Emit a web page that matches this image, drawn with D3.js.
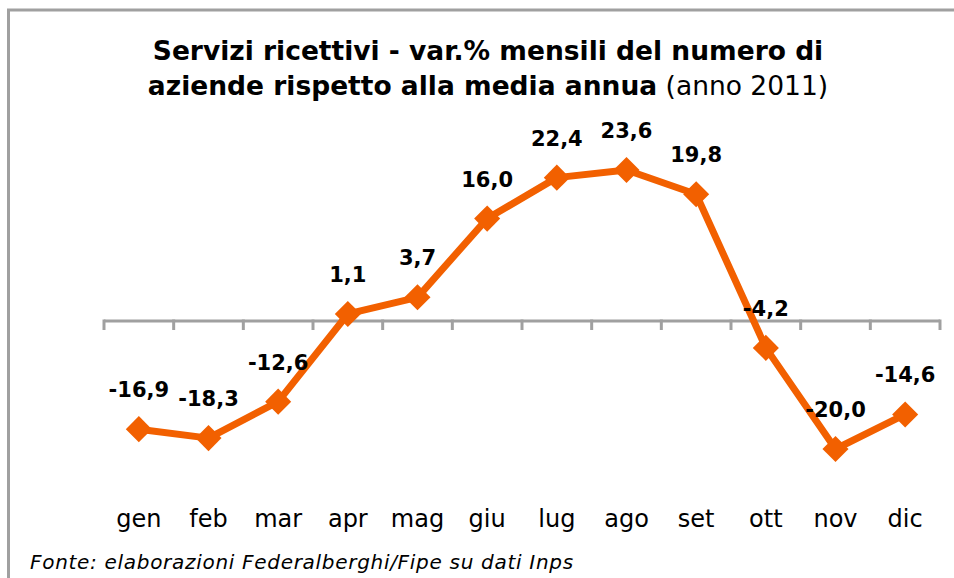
<!DOCTYPE html>
<html>
<head>
<meta charset="utf-8">
<script src="https://cdn.jsdelivr.net/npm/d3@7"></script>
<style>
  body { margin: 0; background: #fff; }
  svg { display: block; }
</style>
</head>
<body>
<svg width="954" height="578"></svg>
<script>
var svg = d3.select('svg');

var months = ['gen', 'feb', 'mar', 'apr', 'mag', 'giu', 'lug', 'ago', 'set', 'ott', 'nov', 'dic'];
var values = [-16.9, -18.3, -12.6, 1.1, 3.7, 16.0, 22.4, 23.6, 19.8, -4.2, -20.0, -14.6];
var labels = ['-16,9', '-18,3', '-12,6', '1,1', '3,7', '16,0', '22,4', '23,6', '19,8', '-4,2', '-20,0', '-14,6'];

var orange = 'rgb(242, 96, 0)';
var grey = '#a0a0a0';
var font = 'DejaVu Sans, Verdana, sans-serif';

// frame (runs off the right and bottom edges)
svg.append('rect')
    .attr('x', 8.5).attr('y', 10)
    .attr('width', 1000).attr('height', 600)
    .attr('fill', 'none')
    .attr('stroke', grey)
    .attr('stroke-width', 3);

var plot = {l: 104, r: 940};

var xScale = d3.scaleBand()
    .domain(months)
    .range([plot.l, plot.r]);

var yScale = d3.scaleLinear()
    .domain([-30, 30])
    .range([513, 129]);

// title
var title = svg.append('text')
    .attr('text-anchor', 'middle')
    .attr('font-family', font)
    .attr('font-size', 26.5)
    .attr('fill', '#000');
title.append('tspan')
    .attr('x', 488).attr('y', 60)
    .attr('font-weight', 'bold')
    .text('Servizi ricettivi - var.% mensili del numero di');
var t2 = title.append('tspan')
    .attr('x', 488).attr('y', 95);
t2.append('tspan').attr('font-weight', 'bold').text('aziende rispetto alla media annua');
t2.append('tspan').text(' (anno 2011)');

// zero axis with category ticks
var axisY = yScale(0);
svg.append('line')
    .attr('x1', plot.l).attr('x2', plot.r)
    .attr('y1', axisY).attr('y2', axisY)
    .attr('stroke', grey).attr('stroke-width', 3);

var tickPos = months.map(function(m) { return xScale(m); }).concat([plot.r]);
svg.selectAll('.tick')
    .data(tickPos)
    .enter().append('line')
    .attr('class', 'tick')
    .attr('x1', function(d) { return d; })
    .attr('x2', function(d) { return d; })
    .attr('y1', axisY - 1.5)
    .attr('y2', axisY + 9)
    .attr('stroke', grey).attr('stroke-width', 3);

// month labels at the bottom
svg.selectAll('.month')
    .data(months)
    .enter().append('text')
    .attr('class', 'month')
    .attr('x', function(d) { return xScale(d) + xScale.bandwidth() / 2; })
    .attr('y', 527)
    .attr('text-anchor', 'middle')
    .attr('font-family', font)
    .attr('font-size', 24)
    .text(function(d) { return d; });

var cx = function(d, i) { return xScale(months[i]) + xScale.bandwidth() / 2; };

// line
var line = d3.line()
    .x(function(d, i) { return cx(d, i); })
    .y(function(d) { return yScale(d); });

svg.append('path')
    .datum(values)
    .attr('d', line)
    .attr('fill', 'none')
    .attr('stroke', orange)
    .attr('stroke-width', 7)
    .attr('stroke-linejoin', 'round');

// diamond markers
var diamond = d3.symbol().type(d3.symbolSquare).size(340);
svg.selectAll('.marker')
    .data(values)
    .enter().append('path')
    .attr('class', 'marker')
    .attr('d', diamond)
    .attr('transform', function(d, i) {
        return 'translate(' + cx(d, i) + ',' + yScale(d) + ') rotate(45)';
    })
    .attr('fill', orange);

// data labels
svg.selectAll('.vlabel')
    .data(values)
    .enter().append('text')
    .attr('class', 'vlabel')
    .attr('x', function(d, i) { return cx(d, i); })
    .attr('y', function(d) { return yScale(d) - 32; })
    .attr('text-anchor', 'middle')
    .attr('font-family', font)
    .attr('font-weight', 'bold')
    .attr('font-size', 21)
    .text(function(d, i) { return labels[i]; });

// source note
svg.append('text')
    .attr('x', 30).attr('y', 569)
    .attr('font-family', font)
    .attr('font-style', 'italic')
    .attr('font-size', 20)
    .attr('letter-spacing', 0.7)
    .text('Fonte: elaborazioni Federalberghi/Fipe su dati Inps');
</script>
</body>
</html>
